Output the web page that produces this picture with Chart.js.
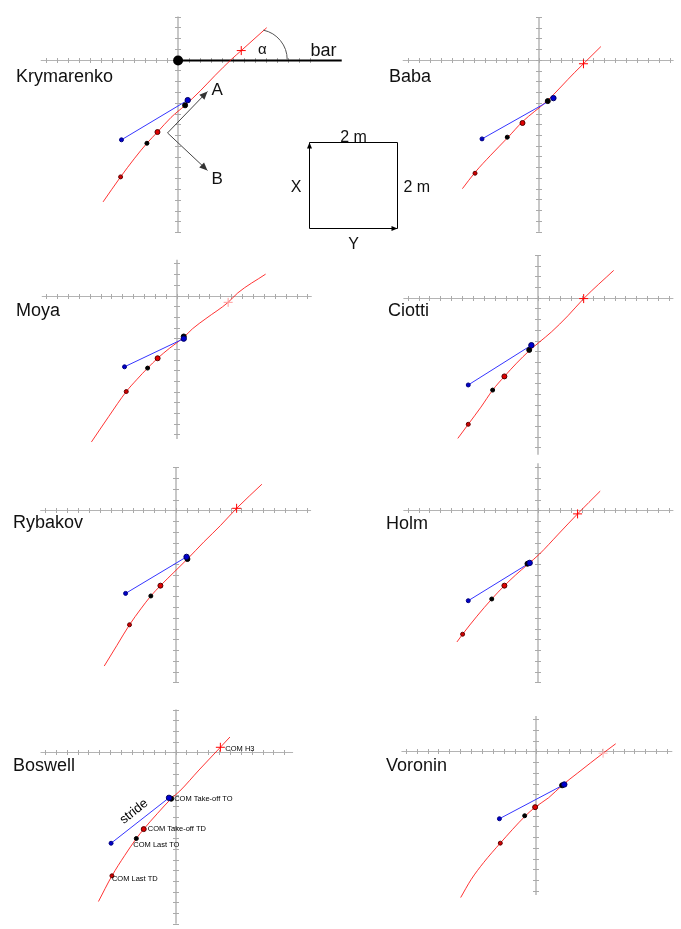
<!DOCTYPE html>
<html>
<head>
<meta charset="utf-8">
<script src="https://cdn.jsdelivr.net/npm/chart.js@4"></script>
<style>
  body { margin: 0; background: #fff; }
  #wrap { position: relative; width: 681px; height: 929px; overflow: hidden; }
  #wrap canvas { position: absolute; }
</style>
</head>
<body>
<div id="wrap"></div>
<script>
// COM paths seen from above, metres from the hammer-throw style origin
// (first value: to the right, second value: up the page)
const markNames = ['COM Last TD', 'COM Last TO', 'COM Take-off TD', 'COM Take-off TO', 'foot', 'COM H3'];

const krymarenkoPath = [[-1.71,-3.30],[-1.31,-2.72],[-1.00,-2.30],[-0.71,-1.94],[-0.47,-1.68],[-0.16,-1.34],[0.16,-1.06],[0.51,-0.72],[0.84,-0.37],[1.22,0.01],[1.44,0.21],[2.02,0.74]];
const krymarenkoMarks = [[-1.31,-2.72],[-0.71,-1.94],[-0.47,-1.68],[0.16,-1.06],[0.22,-0.94],[1.44,0.21]];
const krymarenkoStride = [[-1.29,-1.86],[0.22,-0.94]];

const babaPath = [[-1.76,-3.00],[-1.47,-2.62],[-1.11,-2.22],[-0.71,-1.80],[-0.38,-1.44],[0.18,-0.96],[0.82,-0.29],[1.02,-0.09],[1.42,0.31]];
const babaMarks = [[-1.47,-2.64],[-0.73,-1.80],[-0.38,-1.47],[0.20,-0.96],[0.33,-0.89],[1.02,-0.09]];
const babaStride = [[-1.31,-1.84],[0.16,-1.00]];

const moyaPath = [[-1.96,-3.43],[-1.56,-2.83],[-1.16,-2.25],[-0.91,-1.96],[-0.67,-1.70],[-0.44,-1.47],[-0.16,-1.23],[0.16,-0.98],[0.36,-0.78],[0.67,-0.54],[1.18,-0.16],[1.40,0.06],[2.04,0.50]];
const moyaMarks = [[-1.16,-2.25],[-0.67,-1.70],[-0.44,-1.47],[0.16,-0.96],[0.16,-1.01],[1.18,-0.16]];
const moyaStride = [[-1.20,-1.67],[0.16,-1.01]];

const ciottiPath = [[-1.85,-3.29],[-1.61,-2.96],[-1.32,-2.56],[-1.05,-2.16],[-0.78,-1.84],[-0.50,-1.53],[-0.21,-1.24],[0.02,-1.04],[0.30,-0.80],[0.68,-0.42],[1.04,-0.02],[1.73,0.64]];
const ciottiMarks = [[-1.61,-2.96],[-1.05,-2.16],[-0.78,-1.84],[-0.21,-1.22],[-0.16,-1.11],[1.04,-0.02]];
const ciottiStride = [[-1.61,-2.04],[-0.16,-1.11]];

const rybakovPath = [[-1.65,-3.62],[-1.36,-3.14],[-1.07,-2.66],[-0.81,-2.29],[-0.58,-1.99],[-0.36,-1.75],[-0.05,-1.44],[0.26,-1.13],[0.64,-0.73],[1.02,-0.35],[1.39,0.05],[1.97,0.61]];
const rybakovMarks = [[-1.07,-2.66],[-0.58,-1.99],[-0.36,-1.75],[0.26,-1.13],[0.24,-1.08],[1.39,0.05]];
const rybakovStride = [[-1.16,-1.93],[0.24,-1.08]];

const holmPath = [[-1.87,-3.06],[-1.74,-2.88],[-1.41,-2.46],[-1.07,-2.06],[-0.78,-1.75],[-0.52,-1.50],[-0.25,-1.26],[0.02,-1.02],[0.46,-0.55],[0.90,-0.08],[1.42,0.45]];
const holmMarks = [[-1.74,-2.88],[-1.07,-2.06],[-0.78,-1.75],[-0.25,-1.24],[-0.20,-1.22],[0.90,-0.08]];
const holmStride = [[-1.61,-2.10],[-0.20,-1.22]];

const boswellPath = [[-1.77,-3.48],[-1.46,-2.88],[-1.17,-2.41],[-0.90,-2.01],[-0.73,-1.79],[-0.42,-1.43],[-0.10,-1.08],[0.10,-0.90],[0.54,-0.41],[1.03,0.12],[1.25,0.36]];
const boswellMarks = [[-1.46,-2.88],[-0.90,-2.01],[-0.73,-1.79],[-0.10,-1.08],[-0.15,-1.06],[1.03,0.12]];
const boswellStride = [[-1.48,-2.12],[-0.15,-1.06]];

const voroninPath = [[-1.74,-3.41],[-1.50,-2.99],[-1.21,-2.59],[-0.83,-2.14],[-0.27,-1.52],[-0.03,-1.30],[0.28,-1.08],[0.59,-0.79],[0.95,-0.50],[1.53,-0.04],[1.82,0.18]];
const voroninMarks = [[-0.83,-2.14],[-0.27,-1.50],[-0.03,-1.30],[0.59,-0.79],[0.64,-0.77],[1.53,-0.04]];
const voroninStride = [[-0.85,-1.57],[0.64,-0.77]];

const STEP = 0.25;      // tick spacing on the cross axes, m
const PX_PER_M = 45;
const FONT = '"Liberation Sans", Arial, sans-serif';

// look of each event mark, same order as markNames
const markStyle = [
  { style: 'circle', r: 2.0, bg: '#d00000', line: '#600000' },
  { style: 'circle', r: 2.0, bg: '#000000', line: '#000000' },
  { style: 'circle', r: 2.5, bg: '#e00000', line: '#500000' },
  { style: 'circle', r: 2.5, bg: '#000000', line: '#000000' },
  { style: 'circle', r: 2.7, bg: '#0000d0', line: '#000060' },
  { style: 'cross',  r: 4.5, bg: '#ff0000', line: '#ff0000' }
];

// grey cross axes with small ticks every 25 cm
const crossAxes = {
  id: 'crossAxes',
  beforeDatasetsDraw(chart, args, o) {
    const ctx = chart.ctx, sx = chart.scales.x, sy = chart.scales.y;
    const cx = Math.round(sx.getPixelForValue(0));
    const cy = Math.round(sy.getPixelForValue(0)) + 0.5;
    ctx.save();
    ctx.strokeStyle = '#b4b4b4';
    ctx.lineWidth = 1;
    ctx.beginPath();
    ctx.moveTo(sx.getPixelForValue(o.x[0]), cy);
    ctx.lineTo(sx.getPixelForValue(o.x[1]), cy);
    ctx.stroke();
    ctx.strokeStyle = '#c8c8c8';
    ctx.lineWidth = 2;
    ctx.beginPath();
    ctx.moveTo(cx, sy.getPixelForValue(o.y[1]));
    ctx.lineTo(cx, sy.getPixelForValue(o.y[0]));
    ctx.stroke();
    ctx.strokeStyle = '#aaaaaa';
    ctx.lineWidth = 1;
    ctx.beginPath();
    for (let i = Math.ceil(o.x[0] / STEP); i <= Math.floor(o.x[1] / STEP); i++) {
      const X = Math.round(sx.getPixelForValue(i * STEP)) + 0.5;
      ctx.moveTo(X, cy - 2.5); ctx.lineTo(X, cy + 2.5);
    }
    for (let i = Math.ceil(o.y[0] / STEP); i <= Math.floor(o.y[1] / STEP); i++) {
      const Y = Math.round(sy.getPixelForValue(i * STEP)) + 0.5;
      ctx.moveTo(cx - 3, Y); ctx.lineTo(cx + 3, Y);
    }
    ctx.stroke();
    ctx.restore();
  },
  afterDraw(chart, args, o) {
    const ctx = chart.ctx;
    ctx.save();
    ctx.fillStyle = '#111';
    ctx.font = '18px ' + FONT;
    ctx.textBaseline = 'alphabetic';
    ctx.fillText(o.title, o.titleAt[0], o.titleAt[1]);
    ctx.restore();
  }
};

function arrow(ctx, x1, y1, x2, y2, head, half) {
  const a = Math.atan2(y2 - y1, x2 - x1);
  ctx.beginPath();
  ctx.moveTo(x1, y1);
  ctx.lineTo(x2, y2);
  ctx.stroke();
  ctx.beginPath();
  ctx.moveTo(x2, y2);
  ctx.lineTo(x2 - head * Math.cos(a) + half * Math.sin(a), y2 - head * Math.sin(a) - half * Math.cos(a));
  ctx.lineTo(x2 - head * Math.cos(a) - half * Math.sin(a), y2 - head * Math.sin(a) + half * Math.cos(a));
  ctx.closePath();
  ctx.fill();
}

// bar, angle, A/B directions and the 2 m scale square
const krymarenkoNotes = {
  id: 'krymarenkoNotes',
  beforeDatasetsDraw(chart) {
    const ctx = chart.ctx, sx = chart.scales.x, sy = chart.scales.y;
    const X = v => sx.getPixelForValue(v), Y = v => sy.getPixelForValue(v);
    ctx.save();
    ctx.strokeStyle = '#000';
    ctx.lineWidth = 2;
    ctx.beginPath();
    ctx.moveTo(X(0), Math.round(Y(0)) + 0.5);
    ctx.lineTo(X(3.73), Math.round(Y(0)) + 0.5);
    ctx.stroke();
    ctx.restore();
  },
  afterDatasetsDraw(chart) {
    const ctx = chart.ctx, sx = chart.scales.x, sy = chart.scales.y;
    const X = v => sx.getPixelForValue(v), Y = v => sy.getPixelForValue(v);
    ctx.save();
    ctx.fillStyle = '#000';
    ctx.beginPath();
    ctx.arc(X(0), Math.round(Y(0)) + 0.5, 5, 0, Math.PI * 2);
    ctx.fill();

    // angle between path and bar
    ctx.strokeStyle = '#555';
    ctx.lineWidth = 1;
    ctx.beginPath();
    ctx.arc(X(1.80), Y(0), 0.67 * PX_PER_M, -78 * Math.PI / 180, 0);
    ctx.stroke();
    ctx.fillStyle = '#111';
    ctx.font = '15px ' + FONT;
    ctx.textAlign = 'center';
    ctx.fillText('α', X(1.92), Y(0.12));
    ctx.font = '18px ' + FONT;
    ctx.textAlign = 'left';
    ctx.fillText('bar', X(3.02), Y(0.08));

    // A / B directions
    ctx.strokeStyle = '#444';
    ctx.fillStyle = '#333';
    arrow(ctx, X(-0.24), Y(-1.70), X(0.67), Y(-0.74), 8, 3.5);
    arrow(ctx, X(-0.24), Y(-1.70), X(0.67), Y(-2.57), 8, 3.5);
    ctx.fillStyle = '#111';
    ctx.font = '17px ' + FONT;
    ctx.fillText('A', X(0.76), Y(-0.81));
    ctx.fillText('B', X(0.76), Y(-2.88));

    // 2 m x 2 m scale square
    const l = Math.round(X(2.98)) + 0.5, r = Math.round(X(4.98)) + 0.5;
    const t = Math.round(Y(-1.90)) + 0.5, b = Math.round(Y(-3.90)) + 0.5;
    ctx.strokeStyle = '#000';
    ctx.fillStyle = '#000';
    ctx.beginPath();
    ctx.moveTo(r, b); ctx.lineTo(r, t); ctx.lineTo(l, t);
    ctx.stroke();
    arrow(ctx, l, b, l, t, 6, 2.5);
    arrow(ctx, l, b, r, b, 6, 2.5);
    ctx.fillStyle = '#111';
    ctx.font = '16px ' + FONT;
    ctx.textAlign = 'center';
    ctx.fillText('2 m', (l + r) / 2, t - 1);
    ctx.fillText('Y', (l + r) / 2, b + 20);
    ctx.textAlign = 'right';
    ctx.fillText('X', l - 8, (t + b) / 2 + 6);
    ctx.textAlign = 'left';
    ctx.fillText('2 m', r + 6, (t + b) / 2 + 6);
    ctx.restore();
  }
};

// event names and the stride caption
const boswellNotes = {
  id: 'boswellNotes',
  afterDatasetsDraw(chart) {
    const ctx = chart.ctx;
    const pts = chart.getDatasetMeta(2).data;
    const offsets = [[0, 3], [-3, 6], [4, 0], [3, 0], null, [5, 1.5]];
    ctx.save();
    ctx.fillStyle = '#000';
    ctx.font = '7.5px ' + FONT;
    ctx.textBaseline = 'middle';
    offsets.forEach((d, i) => {
      if (!d) return;
      ctx.fillText(markNames[i], pts[i].x + d[0], pts[i].y + d[1]);
    });
    const s = chart.getDatasetMeta(1).data;
    const ang = Math.atan2(s[1].y - s[0].y, s[1].x - s[0].x);
    ctx.translate((s[0].x + s[1].x) / 2 - 6, (s[0].y + s[1].y) / 2 - 9);
    ctx.rotate(ang);
    ctx.font = '13px ' + FONT;
    ctx.textAlign = 'center';
    ctx.textBaseline = 'middle';
    ctx.fillText('stride', 0, 0);
    ctx.restore();
  }
};

// canvas box [left, top, width, height] and origin in page pixels
const panels = [
  { title: 'Krymarenko', path: krymarenkoPath, marks: krymarenkoMarks, stride: krymarenkoStride,
    box: [0, 0, 440, 262], origin: [177, 56.5], xAxis: [-3.13, 3.13], yAxis: [-4.0, 1.0], titleAt: [16, 82], h3: '#ff0000', notes: krymarenkoNotes },
  { title: 'Baba', path: babaPath, marks: babaMarks, stride: babaStride,
    box: [340, 0, 341, 240], origin: [540, 57], xAxis: [-3.13, 3.09], yAxis: [-4.0, 1.0], titleAt: [389, 82], h3: '#ff0000' },
  { title: 'Moya', path: moyaPath, marks: moyaMarks, stride: moyaStride,
    box: [0, 240, 340, 215], origin: [177, 292.7], xAxis: [-3.1, 3.1], yAxis: [-3.36, 0.84], titleAt: [16, 316], h3: '#ff9a9a' },
  { title: 'Ciotti', path: ciottiPath, marks: ciottiMarks, stride: ciottiStride,
    box: [340, 240, 341, 220], origin: [539.3, 295], xAxis: [-3.1, 3.1], yAxis: [-3.67, 1.0], titleAt: [388, 316], h3: '#ff0000' },
  { title: 'Rybakov', path: rybakovPath, marks: rybakovMarks, stride: rybakovStride,
    box: [0, 455, 340, 245], origin: [176.3, 507.3], xAxis: [-3.12, 3.1], yAxis: [-4.0, 1.0], titleAt: [13, 528], h3: '#ff0000' },
  { title: 'Holm', path: holmPath, marks: holmMarks, stride: holmStride,
    box: [340, 455, 341, 245], origin: [539.3, 507.3], xAxis: [-3.1, 3.1], yAxis: [-4.0, 1.1], titleAt: [386, 529], h3: '#ff0000' },
  { title: 'Boswell', path: boswellPath, marks: boswellMarks, stride: boswellStride,
    box: [0, 700, 340, 229], origin: [175.7, 749.3], xAxis: [-3.1, 2.7], yAxis: [-4.0, 1.0], titleAt: [13, 771], h3: '#ff0000', notes: boswellNotes },
  { title: 'Voronin', path: voroninPath, marks: voroninMarks, stride: voroninStride,
    box: [340, 700, 341, 229], origin: [537.3, 748.3], xAxis: [-3.1, 3.12], yAxis: [-3.35, 0.83], titleAt: [386, 771], h3: '#ffb0b0' }
];

const wrap = document.getElementById('wrap');
const toXY = pts => pts.map(([x, y]) => ({ x, y }));

panels.forEach(p => {
  const [L, T, W, H] = p.box;
  const cv = document.createElement('canvas');
  cv.width = W;
  cv.height = H;
  cv.style.left = L + 'px';
  cv.style.top = T + 'px';
  wrap.appendChild(cv);
  const ox = p.origin[0] - L, oy = p.origin[1] - T;

  new Chart(cv, {
    type: 'scatter',
    data: {
      datasets: [
        { data: toXY(p.path), showLine: true, borderColor: 'rgba(255,0,0,0.8)', borderWidth: 1,
          pointRadius: 0, cubicInterpolationMode: 'monotone', order: 3 },
        { data: toXY(p.stride), showLine: true, borderColor: '#3535ff', borderWidth: 1,
          pointRadius: [2.0, 0], pointBackgroundColor: '#0000c8', pointBorderColor: '#000080', pointBorderWidth: 1, order: 2 },
        { data: toXY(p.marks), showLine: false,
          pointStyle: markStyle.map(m => m.style),
          pointRadius: markStyle.map(m => m.r),
          pointBackgroundColor: markStyle.map((m, i) => i === 5 ? p.h3 : m.bg),
          pointBorderColor: markStyle.map((m, i) => i === 5 ? p.h3 : m.line),
          pointBorderWidth: 1, order: 1 }
      ]
    },
    options: {
      responsive: false,
      animation: false,
      events: [],
      layout: { padding: 0 },
      scales: {
        x: { type: 'linear', display: false, min: -ox / PX_PER_M, max: (W - ox) / PX_PER_M },
        y: { type: 'linear', display: false, min: -(H - oy) / PX_PER_M, max: oy / PX_PER_M }
      },
      plugins: {
        legend: { display: false },
        tooltip: { enabled: false },
        crossAxes: { x: p.xAxis, y: p.yAxis, title: p.title, titleAt: [p.titleAt[0] - L, p.titleAt[1] - T] }
      }
    },
    plugins: p.notes ? [crossAxes, p.notes] : [crossAxes]
  });
});
</script>
</body>
</html>
